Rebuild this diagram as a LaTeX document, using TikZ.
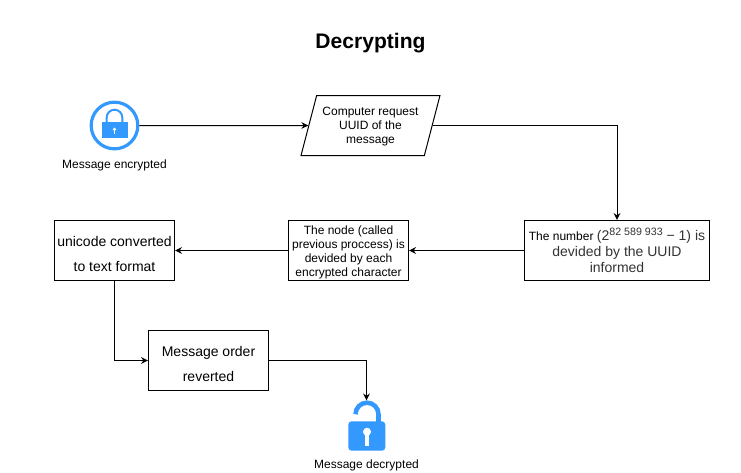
\documentclass[tikz,border=0pt]{standalone}
\usepackage{fontspec}
\setmainfont{Liberation Sans}
\usetikzlibrary{shapes.geometric,arrows.meta}
\definecolor{lockblue}{HTML}{3399FF}
\definecolor{softtext}{HTML}{333333}
\newcommand{\linedrop}[1]{\rule{0pt}{#1}}
\tikzset{
	flowbox/.style={draw,rectangle,line width=0.75pt,minimum width=90pt,minimum height=45pt,inner sep=0pt,align=center},
	smalltext/.style={font=\fontsize{9}{10.6}\selectfont},
	widetext/.style={font=\fontsize{10.5}{18.7}\selectfont},
	arrowline/.style={->,line width=0.75pt}
}
\begin{document}
\begin{tikzpicture}[>={Stealth[length=5.2pt,width=5pt]},x=0.75pt,y=-0.75pt]
	\useasboundingbox (0,0) rectangle (741,472);
	\node[font=\fontsize{15.8}{19}\selectfont\bfseries] (title) at (370.5,43.5) {Decrypting};
	\node[circle,draw=lockblue,line width=2.4pt,minimum size=35pt,inner sep=0pt] (closedlock) at (114.5,125.5) {};
	\node[smalltext,anchor=base] (closedlabel) at (114.5,168) {Message encrypted};
	\node[draw,trapezium,trapezium stretches=true,trapezium left angle=72,trapezium right angle=108,line width=0.75pt,minimum width=105pt,minimum height=45pt,inner sep=1pt,smalltext,align=center] (request) at (370.5,125.5) {\linedrop{8pt}Computer request\\UUID of the\\message};
	\node[flowbox,minimum width=138.75pt,text=softtext,font=\fontsize{10.5}{12}\selectfont] (number) at (617,250.5) {{\fontsize{9}{12}\selectfont\color{black}The number }(2\raisebox{4.2pt}{\fontsize{8}{8}\selectfont 82 589 933} − 1) is\\devided by the UUID\hspace*{3.5pt}\\informed};
	\node[flowbox,smalltext] (division) at (348.5,250.5) {\linedrop{9.5pt}The node (called\\previous proccess) is\\devided by each\\encrypted character};
	\node[flowbox,widetext] (unicode) at (114.5,250.5) {\linedrop{12.5pt}unicode converted\\to text format};
	\node[flowbox,widetext] (reverted) at (208.5,360.5) {\linedrop{12.5pt}Message order\\reverted};
	\coordinate (opentop) at (366.5,400.5);
	\node[smalltext,anchor=base] (openlabel) at (366.5,468) {Message decrypted};
	\draw[arrowline] (closedlock) -- (request.west);
	\draw[arrowline] (request.east) -| (number.north);
	\draw[arrowline] (number.west) -- (division.east);
	\draw[arrowline] (division.west) -- (unicode.east);
	\draw[arrowline] (unicode.south) |- (reverted.west);
	\draw[arrowline] (reverted.east) -| (opentop);
	\fill[lockblue] (102.3,122.3) rectangle (127.7,138);
	\draw[lockblue,line width=1.5pt] (106.7,122.3) -- (106.7,117.5) arc[start angle=180,end angle=360,radius=7.8] -- (122.3,122.3);
	\fill[white] (114.5,129.3) circle[radius=1.8];
	\fill[white] (113.8,129.3) rectangle (115.2,134);
	\fill[lockblue,rounded corners=2.5pt] (348.3,421.3) rectangle (385.3,450.7);
	\draw[lockblue,line width=3.4pt] (355.5,414.2) arc[start angle=180,end angle=360,radius=11.5] -- (378.5,422);
	\fill[white] (367,431.7) circle[radius=4];
	\fill[white] (365.2,431.7) rectangle (368.8,446);
\end{tikzpicture}
\end{document}
